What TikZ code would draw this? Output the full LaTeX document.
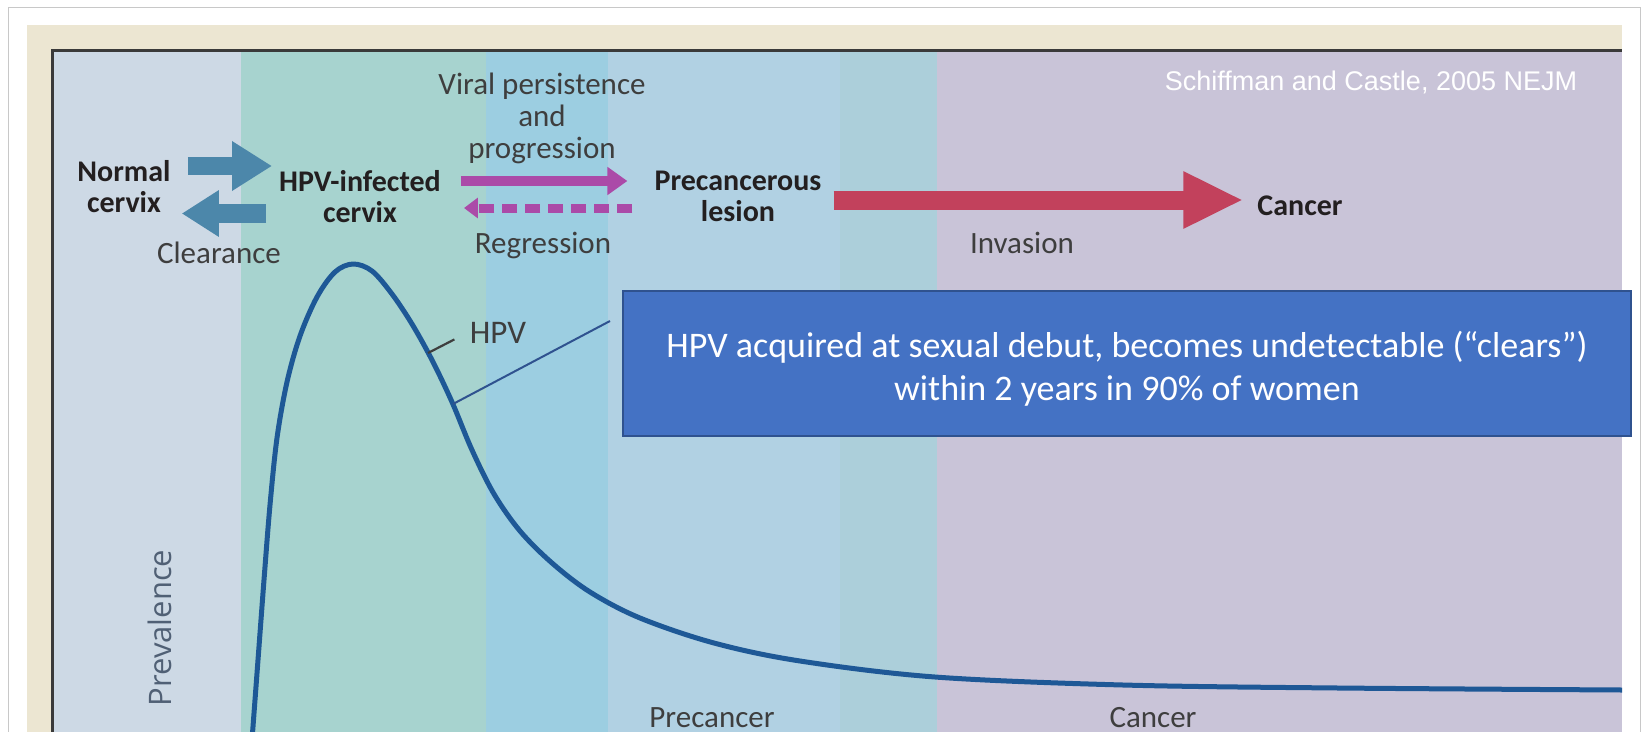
\documentclass[tikz,border=0pt]{standalone}
\usepackage{fontspec}
\setmainfont{Carlito}
\newfontfamily\axisfont{Open Sans}
\newfontfamily\citefont{Liberation Sans}
\usepackage{tikz}
\usetikzlibrary{arrows.meta,calc,positioning}
\definecolor{framegray}{RGB}{200,200,200}
\definecolor{framedark}{RGB}{58,58,58}
\definecolor{beigeframe}{RGB}{236,230,210}
\definecolor{normalband}{RGB}{205,217,229}
\definecolor{infectband}{RGB}{167,211,207}
\definecolor{persistband}{RGB}{156,206,225}
\definecolor{lesionband}{RGB}{177,209,227}
\definecolor{lesionbandb}{RGB}{172,207,218}
\definecolor{cancerband}{RGB}{201,196,216}
\definecolor{curveblue}{RGB}{30,88,150}
\definecolor{clearblue}{RGB}{76,135,170}
\definecolor{progmagenta}{RGB}{171,74,168}
\definecolor{invadered}{RGB}{194,65,92}
\definecolor{stageink}{RGB}{35,31,32}
\definecolor{phaseink}{RGB}{62,62,62}
\definecolor{axisink}{RGB}{80,96,117}
\definecolor{calloutfill}{RGB}{68,114,196}
\definecolor{calloutedge}{RGB}{47,82,143}

\begin{document}
\begin{tikzpicture}[x=1pt,y=-1pt,
    stage/.style={font=\fontsize{30}{31}\selectfont\bfseries,text=stageink,align=center,inner sep=0pt},
    phase/.style={font=\fontsize{31}{32}\selectfont,text=phaseink,align=center,inner sep=0pt},
    clearance/.style={draw=clearblue,line width=#1},
    progress/.style={draw=progmagenta,line width=10pt,-{Triangle[width=27pt,length=20pt]}},
    regress/.style={draw=progmagenta,line width=9pt,dash pattern=on 15pt off 8pt,-{Triangle[width=20pt,length=14pt]}}]
  \useasboundingbox (0,0) rectangle (1644,731);
  \fill[white] (0,0) rectangle (1644,731);
  \draw[framegray,line width=1.2pt] (8.5,7.5) rectangle (1640.5,770);
  \fill[beigeframe] (27,25) rectangle (1622,770);

  % stage bands
  \fill[normalband] (53,51) rectangle (241,770);
  \fill[infectband] (241,51) rectangle (486,770);
  \fill[persistband] (486,51) rectangle (608,770);
  \fill[lesionband] (608,51) rectangle (840,770);
  \fill[lesionbandb] (840,51) rectangle (937,770);
  \fill[cancerband] (937,51) rectangle (1622,770);
  \draw[framedark,line width=3pt] (52.5,770) -- (52.5,50.5) -- (1622,50.5);

  \node[stage] (normal) at (124,187) {Normal\\cervix};
  \node[stage] (infected) at (360,197) {HPV-infected\\cervix};
  \node[stage] (lesion) at (738,196) {Precancerous\\lesion};
  \node[stage,anchor=base] (cancer) at (1300,215) {Cancer};
  \node[phase] (viral) at (542,118) {Viral persistence\\and\\progression};
  \node[phase,anchor=base] (clear) at (219,263) {Clearance};
  \node[phase,anchor=base] (regress) at (543,253) {Regression};
  \node[phase,anchor=base] (invasion) at (1022,253) {Invasion};
  \node[font=\citefont\fontsize{27}{27}\selectfont,text=white,anchor=base] (cite) at (1371,90)
    {Schiffman and Castle, 2005 NEJM};

  \draw[clearance=18pt,-{Triangle[width=47pt,length=40pt]},shorten <=17pt,shorten >=7pt]
    (normal.east |- 0,166) -- (infected.west |- 0,166);
  \draw[clearance=19pt,-{Triangle[width=44pt,length=37pt]},shorten <=13pt,shorten >=11pt]
    (infected.west |- 0,213.5) -- (normal.east |- 0,213.5);
  \draw[progress,shorten <=20pt,shorten >=27pt] (infected.east |- 0,181) -- (lesion.west |- 0,181);
  \draw[regress,shorten <=22pt,shorten >=23pt] (lesion.west |- 0,208) -- (infected.east |- 0,208);
  \draw[draw=invadered,line width=19pt,-{Triangle[width=53pt,length=60pt]},shorten <=12pt,shorten >=14pt]
    (lesion.east |- 0,200) -- (cancer.west |- 0,200);

  % prevalence curve
  \draw[curveblue,line width=5pt,line join=round] plot[smooth,tension=0.55] coordinates {
    (252,740) (258,660) (264,580) (270,505) (277,438) (287,382) (300,336) (317,297)
    (335,272) (353,264) (372,271) (392,294) (412,324) (432,360) (452,402) (472,450)
    (494,494) (520,531) (552,563) (590,592) (640,618) (714,643) (800,661) (935,677)
    (1123,685) (1338,688) (1622,690)};
  \node[font=\fontsize{33}{33}\selectfont,text=phaseink,anchor=base] (hpv) at (498,343) {HPV};
  \coordinate (hpvtick) at (428,353);
  \draw[phaseink,line width=2.2pt] (hpvtick) -- ($(hpv.west)+(-12,7)$);

  \node[rotate=90,font=\axisfont\fontsize{31}{31}\selectfont,text=axisink] (prev) at (159.5,628) {Prevalence};
  \node[phase,anchor=base] (precancer) at (712,727) {Precancer};
  \node[phase,anchor=base] (cancerlab) at (1153,727) {Cancer};

  \node[fill=calloutfill,draw=calloutedge,line width=2pt,minimum width=1008pt,minimum height=145pt,inner sep=0pt]
    (fact) at (1127,363.5) {};
  \node[font=\fontsize{36}{43}\selectfont,text=white,align=center,inner sep=0pt] (facttext) at (1127,368.5)
    {HPV acquired at sexual debut, becomes undetectable (“clears”)\\within 2 years in 90\% of women};
  \coordinate (oncurve) at (453,404);
  \coordinate (tail) at (610,321);
  \draw[calloutedge,line width=2pt] (oncurve) -- (tail);
\end{tikzpicture}
\end{document}
